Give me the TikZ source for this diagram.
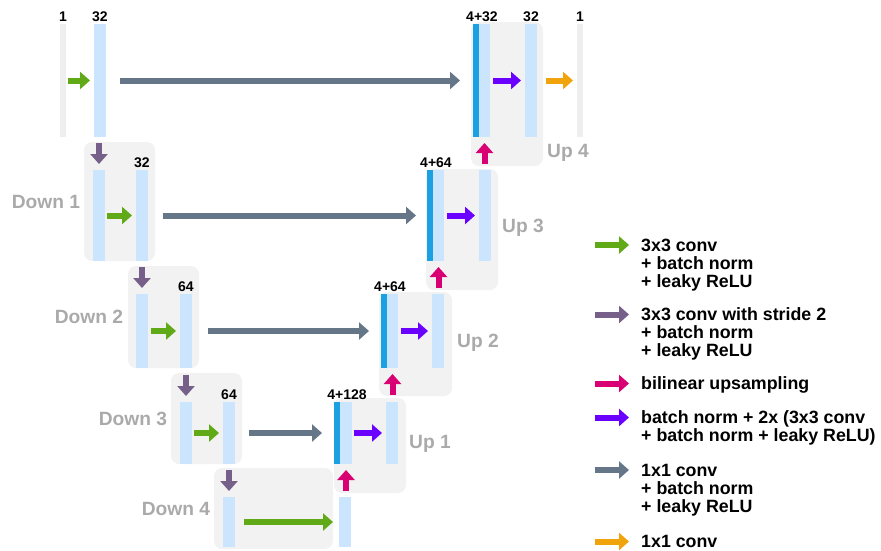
\documentclass[tikz,border=0pt]{standalone}
\usepackage{fontspec}
\setmainfont{Liberation Sans}
\usetikzlibrary{arrows.meta}
\definecolor{lb}{HTML}{CCE5FF}
\definecolor{db}{HTML}{1BA1E2}
\definecolor{ig}{HTML}{EEEEEE}
\definecolor{bx}{HTML}{F2F2F2}
\definecolor{cg}{HTML}{60A917}
\definecolor{cp}{HTML}{76608A}
\definecolor{ck}{HTML}{D80073}
\definecolor{cv}{HTML}{6A00FF}
\definecolor{cs}{HTML}{647687}
\definecolor{co}{HTML}{F0A30A}
\definecolor{tg}{HTML}{AAAAAA}
\begin{document}
\begin{tikzpicture}[x=1pt,y=-1pt,
  blk/.style={fill=bx, rounded corners=8pt, inner sep=0pt, outer sep=0pt, anchor=north west},
  barl/.style={fill=lb, inner sep=0pt, outer sep=0pt, anchor=north west, minimum width=12pt},
  bard/.style={fill=db, inner sep=0pt, outer sep=0pt, anchor=north west, minimum width=6pt},
  bari/.style={fill=ig, inner sep=0pt, outer sep=0pt, anchor=north west, minimum width=6pt},
  num/.style={anchor=south, inner sep=0pt, font=\bfseries\fontsize{14}{16}\selectfont},
  blab/.style={inner sep=0pt, text=tg, font=\bfseries\fontsize{19.2}{21}\selectfont},
  leg/.style={anchor=base west, inner sep=0pt, font=\bfseries\fontsize{17.8}{18}\selectfont},
  arr/.style={line width=6pt, -{Triangle[length=10pt,width=17pt]}},
  ga/.style={arr, cg}, pa/.style={arr, cp}, ka/.style={arr, ck},
  va/.style={arr, cv}, sa/.style={arr, cs}, oa/.style={arr, co}
]
\useasboundingbox (0,0) rectangle (881,550);

% ---------- block backgrounds ----------
\node[blk, minimum width=71pt, minimum height=119pt] (B1) at (84,142) {};
\node[blk, minimum width=71pt, minimum height=102pt] (B2) at (128,266) {};
\node[blk, minimum width=71pt, minimum height=91pt]  (B3) at (171,373) {};
\node[blk, minimum width=119pt, minimum height=81pt] (B4) at (214,468) {};
\node[blk, minimum width=72pt, minimum height=95pt]  (U1) at (334,398) {};
\node[blk, minimum width=73pt, minimum height=104pt] (U2) at (379,292) {};
\node[blk, minimum width=72pt, minimum height=121pt] (U3) at (426,169) {};
\node[blk, minimum width=72pt, minimum height=144pt] (U4) at (471,22) {};

% ---------- bars ----------
% top row
\node[bari, minimum height=113pt] (in) at (60,24) {};
\node[barl, minimum height=113pt] (e0) at (94,24) {};
\node[bard, minimum height=113pt] (u4a) at (473,24) {};
\node[barl, minimum width=11pt, minimum height=113pt] (u4b) at (479,24) {};
\node[barl, minimum height=113pt] (u4c) at (525,24) {};
\node[bari, minimum height=113pt] (out) at (577,24) {};
% level 1
\node[barl, minimum height=91pt] (d1a) at (93,170) {};
\node[barl, minimum height=91pt] (d1b) at (136,170) {};
\node[bard, minimum height=91pt] (u3a) at (427,170) {};
\node[barl, minimum width=11pt, minimum height=91pt] (u3b) at (433,170) {};
\node[barl, minimum height=91pt] (u3c) at (479,170) {};
% level 2
\node[barl, minimum height=74pt] (d2a) at (136,294) {};
\node[barl, minimum height=74pt] (d2b) at (180,294) {};
\node[bard, minimum height=74pt] (u2a) at (381,294) {};
\node[barl, minimum width=11pt, minimum height=74pt] (u2b) at (387,294) {};
\node[barl, minimum height=74pt] (u2c) at (432,294) {};
% level 3
\node[barl, minimum height=62pt] (d3a) at (180,402) {};
\node[barl, minimum height=62pt] (d3b) at (223,402) {};
\node[bard, minimum height=62pt] (u1a) at (334,402) {};
\node[barl, minimum height=62pt] (u1b) at (340,402) {};
\node[barl, minimum height=62pt] (u1c) at (386,402) {};
% level 4
\node[barl, minimum height=50pt] (d4a) at (223,497) {};
\node[barl, minimum height=50pt] (bn) at (339,497) {};

% ---------- channel numbers ----------
\node[num] (n1) at ([yshift=2pt]in.north) {1};
\node[num] (n2) at ([yshift=2pt]e0.north) {32};
\node[num] (n3) at ([xshift=3pt,yshift=2pt]u4a.north east) {4+32};
\node[num] (n4) at ([yshift=2pt]u4c.north) {32};
\node[num] (n5) at ([yshift=2pt]out.north) {1};
\node[num] (n6) at ([yshift=2pt]d1b.north) {32};
\node[num] (n7) at ([xshift=3pt,yshift=2pt]u3a.north east) {4+64};
\node[num] (n8) at ([yshift=2pt]d2b.north) {64};
\node[num] (n9) at ([xshift=3pt,yshift=2pt]u2a.north east) {4+64};
\node[num] (n10) at ([yshift=2pt]d3b.north) {64};
\node[num] (n11) at ([xshift=7pt,yshift=2pt]u1a.north east) {4+128};

% ---------- block labels ----------
\node[blab] (lD1) at (46,202) {Down 1};
\node[blab] (lD2) at (89,317) {Down 2};
\node[blab] (lD3) at (133,419) {Down 3};
\node[blab] (lD4) at (176,509) {Down 4};
\node[blab] (lU1) at (430,444) {Up 1};
\node[blab] (lU2) at (478,343) {Up 2};
\node[blab] (lU3) at (523,228) {Up 3};
\node[blab] (lU4) at (568,153) {Up 4};

% ---------- 3x3 conv (green) ----------
\draw[ga] ([xshift=2pt]in.east) -- ([xshift=-4pt]e0.west);
\draw[ga] ([xshift=2pt]d1a.east) -- ([xshift=-4pt]d1b.west);
\draw[ga] ([xshift=3pt]d2a.east) -- ([xshift=-4pt]d2b.west);
\draw[ga] ([xshift=2pt]d3a.east) -- ([xshift=-4pt]d3b.west);
\draw[ga] ([xshift=9pt]d4a.east) -- ([xshift=-6pt]bn.west);

% ---------- strided conv (purple, down) ----------
\draw[pa] ([yshift=27pt]d1a.north) -- ([yshift=6pt]d1a.north);
\draw[pa] ([yshift=27pt]d2a.north) -- ([yshift=6pt]d2a.north);
\draw[pa] ([yshift=27pt]d3a.north) -- ([yshift=6pt]d3a.north);
\draw[pa] ([yshift=27pt]d4a.north) -- ([yshift=6pt]d4a.north);

% ---------- upsampling (pink, up) ----------
\draw[ka] ([yshift=-27pt]u4b.south) -- ([yshift=-6pt]u4b.south);
\draw[ka] ([yshift=-27pt]u3b.south) -- ([yshift=-6pt]u3b.south);
\draw[ka] ([yshift=-27pt]u2b.south) -- ([yshift=-6pt]u2b.south);
\draw[ka] ([yshift=-27pt]u1b.south) -- ([yshift=-6pt]u1b.south);

% ---------- up convs (violet) ----------
\draw[va] ([xshift=3pt]u4b.east) -- ([xshift=-4pt]u4c.west);
\draw[va] ([xshift=3pt]u3b.east) -- ([xshift=-4pt]u3c.west);
\draw[va] ([xshift=3pt]u2b.east) -- ([xshift=-4pt]u2c.west);
\draw[va] ([xshift=2pt]u1b.east) -- ([xshift=-4pt]u1c.west);

% ---------- skip connections (slate) ----------
\draw[sa] ([xshift=14pt]e0.east) -- ([xshift=-13pt]u4a.west);
\draw[sa] ([xshift=15pt]d1b.east) -- ([xshift=-11pt]u3a.west);
\draw[sa] ([xshift=16pt]d2b.east) -- ([xshift=-12pt]u2a.west);
\draw[sa] ([xshift=14pt]d3b.east) -- ([xshift=-12pt]u1a.west);

% ---------- output conv (orange) ----------
\draw[oa] ([xshift=9pt]u4c.east) -- ([xshift=-4pt]out.west);

% ---------- legend ----------
\node[leg] (L1a) at (641,251) {3x3 conv};
\node[leg] (L1b) at (641,269) {+ batch norm};
\node[leg] (L1c) at (641,287) {+ leaky ReLU};
\node[leg] (L2a) at (641,320) {3x3 conv with stride 2};
\node[leg] (L2b) at (641,338) {+ batch norm};
\node[leg] (L2c) at (641,356) {+ leaky ReLU};
\node[leg] (L3a) at (641,389) {bilinear upsampling};
\node[leg] (L4a) at (641,423) {batch norm + 2x (3x3 conv};
\node[leg] (L4b) at (641,441) {+ batch norm + leaky ReLU)};
\node[leg] (L5a) at (641,476) {1x1 conv};
\node[leg] (L5b) at (641,494) {+ batch norm};
\node[leg] (L5c) at (641,512) {+ leaky ReLU};
\node[leg] (L6a) at (641,547) {1x1 conv};

\draw[ga] ([xshift=-46pt,yshift=6pt]L1a.base west) -- ([xshift=-12pt,yshift=6pt]L1a.base west);
\draw[pa] ([xshift=-46pt,yshift=5.5pt]L2a.base west) -- ([xshift=-12pt,yshift=5.5pt]L2a.base west);
\draw[ka] ([xshift=-46pt,yshift=5.5pt]L3a.base west) -- ([xshift=-12pt,yshift=5.5pt]L3a.base west);
\draw[va] ([xshift=-46pt,yshift=5.5pt]L4a.base west) -- ([xshift=-12pt,yshift=5.5pt]L4a.base west);
\draw[sa] ([xshift=-46pt,yshift=6pt]L5a.base west) -- ([xshift=-12pt,yshift=6pt]L5a.base west);
\draw[oa] ([xshift=-46pt,yshift=5.5pt]L6a.base west) -- ([xshift=-12pt,yshift=5.5pt]L6a.base west);
\end{tikzpicture}
\end{document}
